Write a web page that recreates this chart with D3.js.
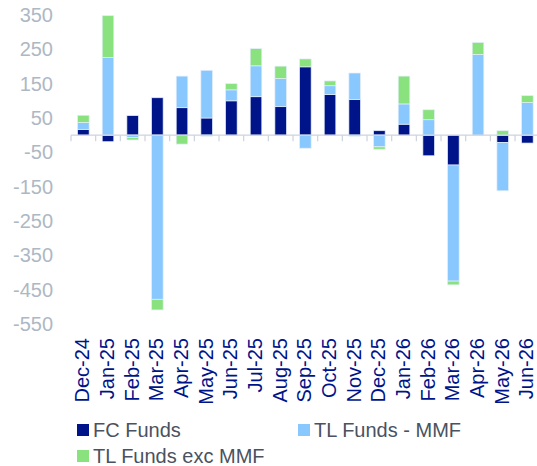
<!DOCTYPE html>
<html><head><meta charset="utf-8">
<script src="https://cdn.jsdelivr.net/npm/d3@7"></script>
<style>body{margin:0;background:#fff;}svg{display:block;font-family:Arial,"Liberation Sans",sans-serif;}</style>
</head><body><div id="c"></div>
<script>
const categories = ["Dec-24","Jan-25","Feb-25","Mar-25","Apr-25","May-25","Jun-25","Jul-25","Aug-25","Sep-25","Oct-25","Nov-25","Dec-25","Jan-26","Feb-26","Mar-26","Apr-26","May-26","Jun-26"];
const fcFunds      = [17,-19,57,109,80,50,100,112,83,199,118,104,13,32,-60,-87,0,-21,-23];
const tlFundsMMF   = [20,226,-7,-478,92,139,32,90,82,-38,26,77,-34,59,45,-338,235,-141,95];
const tlFundsExc   = [21,122,-7,-31,-26,-3,18,50,36,23,14,-3,-7,81,29,-11,35,13,20];
const seriesNames  = ["FC Funds","TL Funds - MMF","TL Funds exc MMF"];
const colors       = ["#001489","#88C8FF","#89E27E"];
const yTicks       = [350,250,150,50,-50,-150,-250,-350,-450,-550];

const W=537,H=466;
const svg=d3.select("#c").append("svg").attr("width",W).attr("height",H);
const x=d3.scaleBand().domain(categories).range([71,539.7]).paddingInner(0.53).paddingOuter(0.265);
const y=d3.scaleLinear().domain([-550,350]).range([324,15]);

const data=categories.map((c,i)=>({cat:c,"FC Funds":fcFunds[i],"TL Funds - MMF":tlFundsMMF[i],"TL Funds exc MMF":tlFundsExc[i]}));
const stack=d3.stack().keys(seriesNames).offset(d3.stackOffsetDiverging)(data);

// y labels
svg.append("g").selectAll("text").data(yTicks).join("text")
  .attr("x",53).attr("y",d=>y(d)).attr("dy","0.35em").attr("text-anchor","end")
  .attr("fill","#AEB8C4").attr("font-size",20).text(d=>d);

// bars
svg.append("g").selectAll("g").data(stack).join("g").attr("fill",(d,i)=>colors[i])
  .selectAll("rect").data(d=>d).join("rect")
  .attr("x",d=>x(d.data.cat)).attr("width",x.bandwidth())
  .attr("y",d=>y(Math.max(d[0],d[1]))).attr("height",d=>Math.abs(y(d[0])-y(d[1])))
  .attr("stroke","#e4eefa").attr("stroke-width",0.7);

// zero axis line and ticks
const z=y(0);
svg.append("line").attr("x1",71).attr("x2",W).attr("y1",z).attr("y2",z).attr("stroke","#CDD3DC").attr("stroke-width",1.2);
const step=x.step();
svg.append("g").selectAll("line").data(d3.range(categories.length+1)).join("line")
  .attr("x1",i=>71+i*step).attr("x2",i=>71+i*step).attr("y1",z).attr("y2",z+6)
  .attr("stroke","#CDD3DC").attr("stroke-width",1.2);

// x labels
svg.append("g").selectAll("text").data(categories).join("text")
  .attr("transform",d=>`translate(${x(d)+x.bandwidth()/2+6},338) rotate(-90)`)
  .attr("text-anchor","end").attr("fill","#001489").attr("font-size",20).text(d=>d);

// legend
const leg=[{n:seriesNames[0],c:colors[0],x:77,y:424},{n:seriesNames[1],c:colors[1],x:298,y:424},{n:seriesNames[2],c:colors[2],x:77,y:450}];
const lg=svg.append("g").selectAll("g").data(leg).join("g");
lg.append("rect").attr("x",d=>d.x).attr("y",d=>d.y).attr("width",12).attr("height",12).attr("fill",d=>d.c);
lg.append("text").attr("x",d=>d.x+16).attr("y",d=>d.y+12.5).attr("fill","#4A5261").attr("font-size",20).text(d=>d.n);
</script></body></html>
